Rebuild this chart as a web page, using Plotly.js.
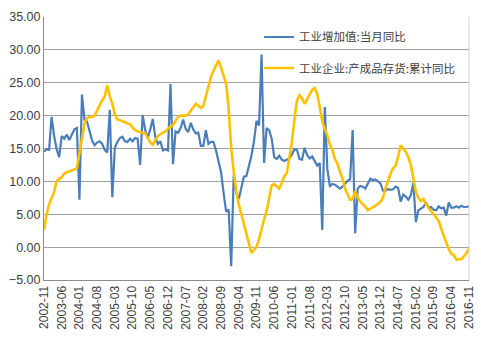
<!DOCTYPE html>
<html>
<head>
<meta charset="utf-8">
<script src="https://cdn.plot.ly/plotly-3.0.1.min.js"></script>
<style>html,body{margin:0;padding:0;background:#fff;}#chart{width:481px;height:356px;}</style>
</head>
<body>
<div id="chart"></div>
<script>
// Month categories 2002-11 .. 2016-11
var months = [];
for (var y = 2002, m = 11; y < 2016 || (y === 2016 && m <= 11); ) {
  months.push(y + '-' + (m < 10 ? '0' + m : '' + m));
  m++; if (m > 12) { m = 1; y++; }
}
var tickLabels = ['2002-11','2003-06','2004-01','2004-08','2005-03','2005-10','2006-05','2006-12','2007-07','2008-02','2008-09','2009-04','2009-11','2010-06','2011-01','2011-08','2012-03','2012-10','2013-05','2013-12','2014-07','2015-02','2015-09','2016-04','2016-11'];

var seriesNames = ['工业增加值:当月同比', '工业企业:产成品存货:累计同比'];

// 工业增加值:当月同比
var valueAdded = [
 14.5,14.9,
 14.8,19.8,16.9,14.9,13.7,16.9,16.5,17.1,16.3,17.2,17.9,18.1,
 7.2,23.2,19.4,19.1,17.5,16.2,15.5,15.9,16.1,15.7,14.8,14.4,
 20.9,7.6,15.1,16.0,16.6,16.8,16.1,16.0,16.5,16.1,16.6,16.5,
 12.5,20.1,17.8,16.6,17.9,19.5,16.7,15.7,16.1,14.7,14.9,14.7,
 24.8,12.6,17.6,17.4,18.1,19.4,18.0,17.5,18.9,17.9,17.3,17.4,
 15.4,15.4,17.8,15.7,16.0,16.0,14.7,12.8,11.4,8.2,5.4,5.7,
 -2.9,11.0,8.3,7.3,8.9,10.7,10.8,12.3,13.9,16.1,19.2,18.5,
 29.3,12.8,18.1,17.8,16.5,13.7,13.4,13.9,13.3,13.1,13.3,13.5,
 14.1,14.9,14.8,13.4,13.3,15.1,14.0,13.5,13.8,13.2,12.4,12.8,
 2.6,21.3,11.9,9.3,9.6,9.5,9.2,8.9,9.2,9.6,10.1,10.3,
 17.8,2.1,8.9,9.3,9.2,8.9,9.7,10.4,10.2,10.3,10.0,9.7,
 8.6,8.6,8.8,8.7,8.8,9.2,9.0,6.9,8.0,7.7,7.2,7.9,
 9.8,3.8,5.6,5.9,6.1,6.8,6.0,6.1,5.7,5.6,6.2,5.9,
 6.0,4.8,6.8,6.0,6.0,6.2,6.0,6.3,6.1,6.1,6.2
];

// 工业企业:产成品存货:累计同比
var inventory = [
 2.6,4.9,
 6.5,7.6,8.4,10.0,10.4,10.6,11.2,11.4,11.5,11.7,11.8,12.0,
 14.5,17.0,18.8,19.6,19.8,19.8,20.0,20.8,21.6,22.3,22.9,24.6,
 23.0,21.8,20.2,19.4,19.3,19.2,19.0,18.8,18.7,18.2,17.8,17.6,
 17.5,17.5,17.3,16.6,15.9,15.6,16.3,16.9,17.2,17.4,17.6,18.0,
 18.3,18.6,19.2,19.8,20.0,20.0,20.0,20.2,20.8,21.4,21.8,21.5,
 21.2,21.5,23.0,24.6,25.9,26.8,27.6,28.4,27.3,26.0,24.8,21.0,
 15.0,11.5,8.5,6.5,5.0,3.4,2.1,0.3,-0.9,-0.4,0.0,1.2,
 2.8,4.2,5.5,7.6,9.4,9.6,9.2,8.9,9.8,10.8,11.3,13.5,
 16.0,19.5,22.3,23.1,22.6,21.8,22.5,23.3,23.9,24.2,23.3,21.3,
 19.2,18.0,17.0,15.6,14.8,13.4,12.7,11.5,10.4,8.9,8.0,7.2,
 7.3,8.5,7.6,6.9,6.5,6.2,5.6,5.8,6.0,6.3,6.6,6.9,
 7.5,9.0,10.0,11.2,12.0,12.4,13.8,15.5,15.0,14.5,13.7,12.5,
 10.5,8.4,7.5,7.0,7.3,6.5,6.0,5.5,5.0,4.5,4.0,2.8,
 1.8,0.6,-0.3,-1.0,-1.2,-1.9,-1.9,-1.8,-1.4,-0.9,-0.2
];

var traces = [
  {x: months, y: valueAdded, type: 'scatter', mode: 'lines', name: seriesNames[0],
   line: {color: '#4a7ebb', width: 2.2}, legend: 'legend'},
  {x: months, y: inventory, type: 'scatter', mode: 'lines', name: seriesNames[1],
   line: {color: '#ffc000', width: 2.6}, legend: 'legend2'}
];

var legendFont = {family: 'Noto Sans CJK SC, sans-serif', size: 11.5, color: '#404040'};

var layout = {
  width: 481, height: 356,
  margin: {l: 44, r: 12, t: 17, b: 76},
  paper_bgcolor: '#ffffff', plot_bgcolor: '#ffffff',
  showlegend: true,
  legend: {x: 0.506, y: 0.924, xanchor: 'left', yanchor: 'middle', bgcolor: 'rgba(0,0,0,0)',
           font: legendFont, itemwidth: 30},
  legend2: {x: 0.506, y: 0.806, xanchor: 'left', yanchor: 'middle', bgcolor: 'rgba(0,0,0,0)',
           font: legendFont, itemwidth: 30},
  xaxis: {
    type: 'category', range: [0, 168],
    tickmode: 'array', tickvals: tickLabels, ticktext: tickLabels,
    tickangle: -90, tickfont: {family: 'Liberation Sans, Arial, sans-serif', size: 12, color: '#404040'},
    showgrid: false, showline: true, linecolor: '#8c8c8c', linewidth: 1, ticks: '',
    zeroline: false, fixedrange: true
  },
  yaxis: {
    range: [-5, 35], dtick: 5, tick0: -5, tickformat: '.2f',
    tickfont: {family: 'Liberation Sans, Arial, sans-serif', size: 12.5, color: '#404040'},
    showgrid: true, gridcolor: '#a0a0a0', gridwidth: 1,
    showline: true, linecolor: '#8c8c8c', linewidth: 1, ticks: '',
    zeroline: false, fixedrange: true
  },
  shapes: [
    {type: 'line', xref: 'paper', yref: 'paper', x0: 1, x1: 1, y0: 0, y1: 1,
     line: {color: '#d0d0d0', width: 1}}
  ]
};

Plotly.newPlot('chart', traces, layout, {displayModeBar: false, staticPlot: true});
</script>
</body>
</html>
